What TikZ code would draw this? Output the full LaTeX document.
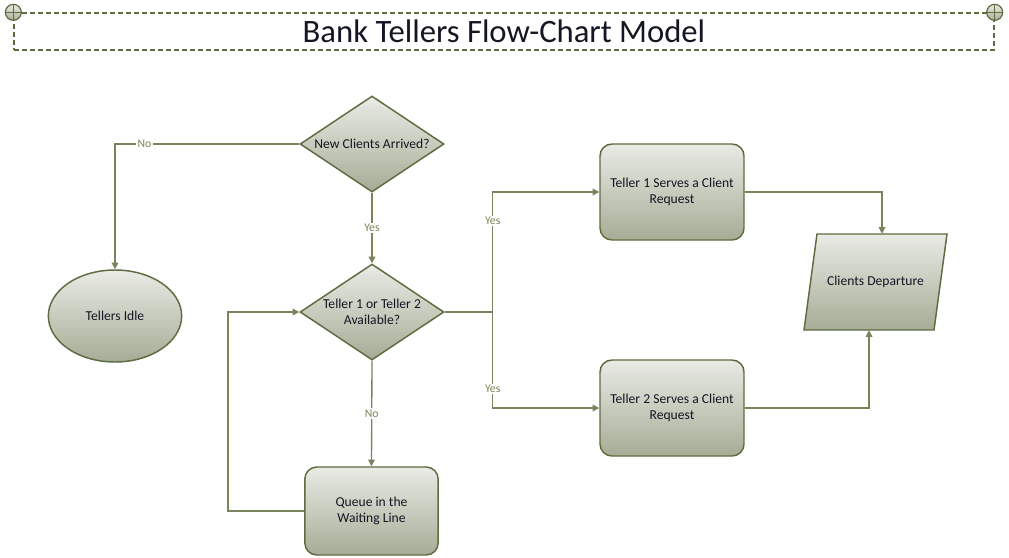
\documentclass[tikz,border=0pt]{standalone}
\usepackage{fontspec}
\setmainfont{Carlito}
\usetikzlibrary{shapes.geometric,arrows.meta,calc}
\definecolor{chartedge}{RGB}{94,108,66}
\definecolor{chartline}{RGB}{120,132,92}
\definecolor{chartlight}{RGB}{233,235,229}
\definecolor{chartdark}{RGB}{166,172,150}
\definecolor{chartink}{RGB}{20,22,35}
\definecolor{chartlabel}{RGB}{128,130,84}
\tikzset{
  shadebox/.style={draw=chartedge, line width=1.1pt, top color=chartlight, bottom color=chartdark},
  decision/.style={shadebox, diamond, minimum width=108pt, minimum height=72pt, inner sep=0pt},
  process/.style={shadebox, rectangle, rounded corners=9pt, minimum width=108pt, minimum height=72pt, align=center},
  terminal/.style={shadebox, ellipse, minimum width=100pt, minimum height=69pt, inner sep=0pt},
  iotext/.style={rectangle, minimum width=97.5pt, minimum height=72pt, inner sep=0pt},
  flow/.style={draw=chartline, line width=1pt, -{Triangle[length=5pt,width=5pt]}},
  lbl/.style={fill=white, inner sep=1pt, text=chartlabel, font=\fontsize{8.8}{10}\selectfont},
  handle/.style={circle, minimum size=12pt, inner sep=0pt, draw=chartedge, line width=0.9pt,
    top color=chartlight, bottom color=chartdark,
    path picture={\draw[chartedge, line width=0.7pt]
      (path picture bounding box.north) -- (path picture bounding box.south)
      (path picture bounding box.west) -- (path picture bounding box.east);}},
}
\begin{document}
\begin{tikzpicture}[x=0.75pt, y=-0.75pt,
  every node/.style={font=\fontsize{10.2}{12}\selectfont, text=chartink}]
  \useasboundingbox (0,0) rectangle (1009,557);

  % title bar
  \node[draw=chartedge, line width=1pt, dash pattern=on 4pt off 2pt,
    minimum width=735pt, minimum height=27.75pt, inner sep=0pt,
    font=\fontsize{24.5}{28}\selectfont] (title) at (504,31.5) {Bank Tellers Flow-Chart Model};
  \foreach \h/\a in {hl/north west, hr/north east} {
    \node[handle] (\h) at (title.\a) {};
  }

  % shapes
  \node[decision, label={[align=center]center:{New Clients Arrived?}}] (arrived) at (372,144) {};
  \node[decision, label={[align=center]center:{Teller 1 or Teller 2\\Available?}}] (avail) at (372,312) {};
  \node[terminal] (idle) at (115,316) {Tellers Idle};
  \node[process, minimum width=100pt, minimum height=66pt] (queue) at (371.5,511) {Queue in the\\Waiting Line};
  \node[process] (serve1) at (672,192) {Teller 1 Serves a Client\\Request};
  \node[process] (serve2) at (672,408) {Teller 2 Serves a Client\\Request};
  % parallelogram
  \draw[shadebox] (817,234) -- (947,234) -- (934,330) -- (804,330) -- cycle;
  \node[iotext] (depart) at (875.5,282) {Clients Departure};

  % connectors
  \draw[flow] (arrived.west) -| node[lbl, pos=0.42] {No} (idle.north);
  \draw[flow] (arrived.south) -- node[lbl] {Yes} (avail.north);
  \draw[flow] (avail.east) -- ++(48,0) coordinate (split) |- node[lbl, pos=0.38] {Yes} (serve1.west);
  \draw[flow] (split) |- node[lbl, pos=0.4] {Yes} (serve2.west);
  \draw[flow] (avail.south) -- node[lbl] {No} (queue.north);
  \draw[flow] (queue.west) -- ++(-76,0) |- (avail.west);
  \draw[flow] (serve1.east) -| ($(depart.north)+(6.5,0)$);
  \draw[flow] (serve2.east) -| ($(depart.south)+(-6.5,0)$);
\end{tikzpicture}
\end{document}
